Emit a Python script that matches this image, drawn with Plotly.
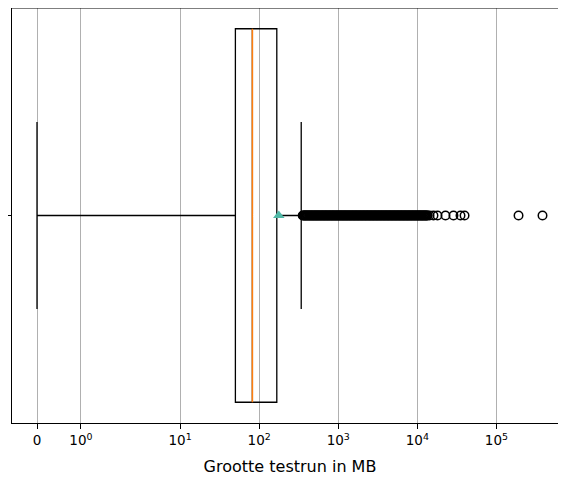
import numpy as np
import plotly.graph_objects as go

# ---- data (MB) ----
box_q1 = 50
box_median = 82
box_q3 = 167
whisker_low = 0
whisker_high = 340
mean_value = 177
outliers = [355, 363, 372, 380, 389, 398, 407, 417, 427, 437, 447, 457, 468,
            479, 490, 501, 513, 525, 537, 550, 562, 575, 589, 603, 617, 631,
            646, 661, 676, 692, 708, 724, 741, 759, 776, 794, 813, 832, 851,
            871, 891, 912, 933, 955, 977, 1000, 1023, 1047, 1072, 1096, 1122,
            1148, 1175, 1202, 1230, 1259, 1288, 1318, 1349, 1380, 1413, 1445,
            1479, 1514, 1549, 1585, 1622, 1660, 1698, 1738, 1778, 1820, 1862,
            1905, 1950, 1995, 2042, 2089, 2138, 2188, 2239, 2291, 2344, 2399,
            2455, 2512, 2570, 2630, 2692, 2754, 2818, 2884, 2951, 3020, 3090,
            3162, 3236, 3311, 3388, 3467, 3548, 3631, 3715, 3802, 3890, 3981,
            4074, 4169, 4266, 4365, 4467, 4571, 4677, 4786, 4898, 5012, 5129,
            5248, 5370, 5495, 5623, 5754, 5888, 6026, 6166, 6310, 6457, 6607,
            6761, 6918, 7079, 7244, 7413, 7586, 7762, 7943, 8128, 8318, 8511,
            8710, 8913, 9120, 9333, 9550, 9772, 10000, 10233, 10471, 10715,
            10965, 11220, 11482, 11749, 12023, 12303, 12589, 12882, 13183,
            13490, 14250, 16000, 17990, 22700, 28640, 35160, 39550, 190500,
            382800]
tick_values = [0, 1, 10, 100, 1000, 10000, 100000]
tick_labels = ["0", "10<sup>0</sup>", "10<sup>1</sup>", "10<sup>2</sup>",
               "10<sup>3</sup>", "10<sup>4</sup>", "10<sup>5</sup>"]
x_label = "Grootte testrun in MB"


# symlog transform (linthresh=2, linscale=1, base 10)
def symlog(v, linthresh=2.0, linscale=1.0, base=10.0):
    v = np.asarray(v, dtype=float)
    adj = linscale / (1.0 - 1.0 / base)
    a = np.abs(v)
    safe = np.maximum(a, 1e-300)
    return np.where(a <= linthresh, v * adj,
                    np.sign(v) * linthresh * (adj + np.log(safe / linthresh) / np.log(base)))


pos = 1.0
box_w = 0.9
BLACK = "#000000"

fig = go.Figure()

fig.add_trace(go.Box(
    y=[pos], orientation="h",
    q1=[float(symlog(box_q1))], median=[float(symlog(box_median))],
    q3=[float(symlog(box_q3))],
    lowerfence=[float(symlog(whisker_low))], upperfence=[float(symlog(whisker_high))],
    width=box_w, whiskerwidth=0.5,
    line=dict(color=BLACK, width=1.3), fillcolor="rgba(0,0,0,0)",
    boxpoints=False, hoverinfo="skip",
))

med_x = float(symlog(box_median))
fig.add_trace(go.Scatter(
    x=[med_x, med_x], y=[pos - box_w / 2, pos + box_w / 2], mode="lines",
    line=dict(color="#ff7f0e", width=1.5), hoverinfo="skip",
))

fig.add_trace(go.Scatter(
    x=symlog(outliers), y=[pos] * len(outliers), mode="markers",
    marker=dict(symbol="circle-open", size=8.5, color=BLACK, line=dict(width=1.5, color=BLACK)),
    hoverinfo="skip",
))

fig.add_trace(go.Scatter(
    x=[float(symlog(mean_value))], y=[pos], mode="markers",
    marker=dict(symbol="triangle-up", size=10, color="#4fb8a6"),
    hoverinfo="skip",
))

# page body adds an 8px offset; compensate in the margins
px_per_unit = 39.535
left_px = 4
x0_px = 29
xmin = -(x0_px - left_px) / px_per_unit
fig_w = 560
xmax = (fig_w - x0_px) / px_per_unit

fig.update_layout(
    width=fig_w, height=472,
    margin=dict(l=left_px, r=0, t=0, b=57, pad=0),
    paper_bgcolor="white", plot_bgcolor="white",
    showlegend=False,
    font=dict(family="DejaVu Sans", size=13.5, color="#000000"),
    xaxis=dict(
        range=[xmin, xmax],
        tickvals=list(symlog(tick_values)), ticktext=tick_labels,
        ticks="outside", ticklen=5, tickwidth=1.1, tickcolor=BLACK,
        showgrid=True, gridcolor="#b0b0b0", gridwidth=1.1,
        zeroline=False,
        showline=True, linecolor=BLACK, linewidth=1.1, mirror=False,
        title=dict(text=x_label, standoff=13),
    ),
    yaxis=dict(
        range=[0.5, 1.5],
        tickvals=[pos], ticktext=[""],
        ticks="outside", ticklen=5, tickwidth=1.1, tickcolor=BLACK,
        showgrid=False, zeroline=False,
        showline=True, linecolor=BLACK, linewidth=1.1, mirror=False,
    ),
    shapes=[dict(type="line", xref="paper", yref="paper", x0=0, x1=1, y0=1, y1=1,
                 line=dict(color=BLACK, width=1.1))],
)

fig.write_html("out.html")
